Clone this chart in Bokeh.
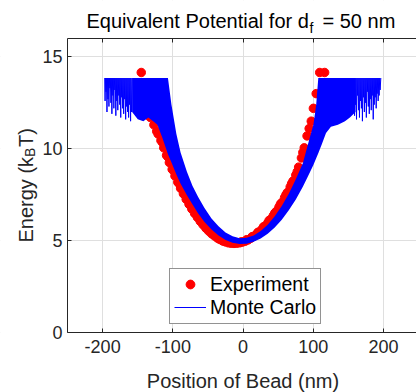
import math
from bokeh.plotting import figure
from bokeh.models import (BoxAnnotation, FixedTicker, Label, Legend, LegendItem,
                          LinearAxis, Range1d)
from bokeh.embed import file_html
from bokeh.resources import INLINE

# ---------------- data ----------------
x_ticks = [-200, -100, 0, 100, 200]
x_tick_labels = ["-200", "-100", "0", "100", "200"]
y_ticks = [0, 5, 10, 15]
y_tick_labels = ["0", "5", "10", "15"]
x_lim = (-250, 250)
y_lim = (0, 16)

# Experiment (red filled circles): position (nm), energy (kBT)
exp_x = [-145, -137, -132, -127, -121, -117, -113, -109, -105, -101, -97, -93, -89, -85,
         -81, -77, -73, -69, -65, -61, -57, -53, -49, -45, -41, -37, -33, -29, -25, -21,
         -17, -13, -9, -5, -1, 3, 7, 11, 15, 19, 23, 27, 31, 35, 39, 43, 47, 51, 55, 59,
         63, 67, 71, 75, 79, 83, 87, 91, 94, 97, 100, 104, 109, 116,
         -123, -115, -107, -99, -91, -83, -75, -67, -59, -51, -43, -35, -27, -19, -11,
         -3, 5, 13, 21, 29, 37, 45, 53, 61, 69, 77, 85]
exp_e = [14.15, 11.85, 11.7, 11.3, 10.8, 10.45, 10.05, 9.64, 9.25, 8.88, 8.52, 8.18, 7.85, 7.55,
         7.25, 6.98, 6.72, 6.48, 6.26, 6.05, 5.86, 5.68, 5.52, 5.38, 5.26, 5.15, 5.06, 4.98, 4.93, 4.88,
         4.86, 4.85, 4.86, 4.88, 4.92, 4.97, 5.04, 5.13, 5.23, 5.34, 5.47, 5.62, 5.78, 5.96, 6.15, 6.36,
         6.58, 6.82, 7.07, 7.34, 7.62, 7.92, 8.24, 8.57, 9.0, 9.5, 10.05, 10.7, 11.1, 11.5, 12.2, 13.0,
         14.15, 14.15,
         10.95, 10.35, 9.55, 8.8, 8.1, 7.5, 6.95, 6.45, 6.0, 5.65, 5.35, 5.12, 4.98, 4.9, 4.9,
         4.93, 5.05, 5.22, 5.45, 5.75, 6.1, 6.5, 6.98, 7.5, 8.1, 8.75, 9.8]

# Monte Carlo: densely sampled part, drawn as its lower / upper envelope
mc_band_x = [-158, -150, -142, -135, -128, -122, -115, -107, -102, -95, -89, -80, -72, -64,
             -55, -45, -35, -25, -15, -5, 5, 15, 25, 35, 45, 55, 65, 75, 85, 92, 100, 104,
             107, 112, 118, 125, 135, 145, 152, 160]
mc_band_lo = [12.0, 11.6, 11.5, 11.7, 11.5, 11.3, 10.6, 9.7, 9.25, 8.6, 8.1, 7.47, 6.97, 6.48,
              6.02, 5.61, 5.28, 5.04, 4.88, 4.81, 4.83, 4.94, 5.12, 5.37, 5.72, 6.14, 6.65, 7.24,
              7.93, 8.47, 9.11, 9.48, 9.75, 10.24, 10.86, 11.2, 11.3, 11.5, 11.7, 12.0]
mc_band_hi = [13.85, 13.85, 13.85, 13.85, 13.85, 13.85, 13.85, 13.85, 12.4, 10.8, 9.8, 8.75, 7.97,
              7.38, 6.78, 6.21, 5.78, 5.44, 5.24, 5.13, 5.15, 5.28, 5.52, 5.87, 6.32, 6.88, 7.55,
              8.34, 9.21, 10.2, 11.3, 12.4, 13.85, 13.85, 13.85, 13.85, 13.85, 13.85, 13.85, 13.85]

# Monte Carlo: sparse spiky fringes at both ends
mc_left_x = [-197, -196.5, -196, -195.2, -194.6, -193.8, -193.2, -192.4, -191.8, -191, -190.4,
             -189.6, -189, -188.2, -187.6, -186.8, -186.2, -185.4, -184.8, -184, -183.4, -182.6,
             -182, -181.2, -180.6, -179.8, -179.2, -178.4, -177.8, -177, -176.4, -175.6, -175,
             -174.2, -173.6, -172.8, -172.2, -171.4, -170.8, -170, -169.4, -168.6, -168, -167.2,
             -166.6, -165.8, -165.2, -164.4, -163.8, -163, -162.4, -161.6, -161, -160.2, -159.6,
             -158.8, -158]
mc_left_e = [13.85, 12.6, 13.85, 13.1, 13.85, 12.0, 13.85, 12.7, 13.85, 12.3, 13.85, 13.3, 13.85,
             12.5, 13.85, 11.9, 13.85, 12.9, 13.85, 12.2, 13.85, 13.2, 13.85, 11.8, 13.85, 12.6,
             13.85, 12.1, 13.85, 12.9, 13.85, 12.4, 13.85, 11.7, 13.85, 12.8, 13.85, 12.2, 13.85,
             11.9, 13.85, 12.7, 13.85, 11.6, 13.85, 12.3, 13.85, 12.0, 13.85, 11.7, 13.85, 12.4,
             13.85, 11.5, 13.85, 12.0, 13.85]
mc_right_x = [158, 158.6, 159.4, 160, 160.8, 161.4, 162.2, 162.8, 163.6, 164.2, 165, 165.6, 166.4,
              167, 167.8, 168.4, 169.2, 169.8, 170.6, 171.2, 172, 172.6, 173.4, 174, 174.8, 175.4,
              176.2, 176.8, 177.6, 178.2, 179, 179.6, 180.4, 181, 181.8, 182.4, 183.2, 183.8,
              184.6, 185.2, 186, 186.6, 187.4, 188, 188.8, 189.4, 190.2, 190.8, 191.6, 192.2,
              193, 193.6, 194.4, 195, 196]
mc_right_e = [13.85, 11.8, 13.85, 12.4, 13.85, 11.6, 13.85, 12.9, 13.85, 12.1, 13.85, 11.7, 13.85,
              12.6, 13.85, 12.2, 13.85, 11.5, 13.85, 12.8, 13.85, 12.0, 13.85, 12.5, 13.85, 11.7,
              13.85, 13.1, 13.85, 12.3, 13.85, 11.9, 13.85, 12.7, 13.85, 12.1, 13.85, 12.9, 13.85,
              11.6, 13.85, 12.4, 13.85, 12.8, 13.85, 12.2, 13.85, 13.0, 13.85, 12.6, 13.85, 12.9,
              13.85, 13.2, 13.85]

# ---------------- layout ----------------
# The frame fills the whole canvas; the axes box sits inside it at these pixels.
W, H = 416, 392
BL, BT, BB = 67, 38, 332          # box left / top / bottom (canvas px)
PX_PER_X = 0.7025                 # px per nm
PX_PER_Y = (BB - BT) / (y_lim[1] - y_lim[0])
xr = (x_lim[0] - BL / PX_PER_X, x_lim[0] + (W - BL) / PX_PER_X)
yr = (y_lim[0] - (H - BB) / PX_PER_Y, y_lim[1] + BT / PX_PER_Y)
FONT = "Liberation Sans"
AX = "#262626"

p = figure(width=W, height=H, x_range=Range1d(*xr), y_range=Range1d(*yr),
           output_backend="svg", toolbar_location=None,
           x_axis_location=None, y_axis_location=None,
           min_border=0, min_border_left=0, min_border_right=0,
           min_border_top=0, min_border_bottom=0)
p.outline_line_color = None
p.background_fill_color = "white"
p.border_fill_color = "white"

p.xgrid.ticker = FixedTicker(ticks=x_ticks)
p.ygrid.ticker = FixedTicker(ticks=y_ticks)
p.grid.grid_line_color = "#dfdfdf"
p.grid.grid_line_width = 1

# white masks: keep grid lines inside the axes box
for kw in (dict(bottom=y_lim[1]), dict(top=y_lim[0]), dict(right=x_lim[0])):
    p.add_layout(BoxAnnotation(fill_color="white", fill_alpha=1, line_color=None,
                               level="underlay", **kw))

bottom = LinearAxis(fixed_location=y_lim[0], bounds=(x_lim[0], xr[1]))
left = LinearAxis(fixed_location=x_lim[0], bounds=y_lim)
top = LinearAxis(fixed_location=y_lim[1], bounds=(x_lim[0], xr[1]))
p.add_layout(bottom, "below")
p.add_layout(left, "left")
p.add_layout(top, "above")

for ax, ticks in [(bottom, x_ticks), (left, y_ticks), (top, x_ticks)]:
    ax.ticker = FixedTicker(ticks=ticks)
    ax.axis_line_color = AX
    ax.axis_line_width = 1
    ax.major_tick_line_color = AX
    ax.major_tick_in = 4
    ax.major_tick_out = 0
    ax.minor_tick_line_color = None
    ax.major_label_text_font = FONT
    ax.major_label_text_color = AX
    ax.major_label_text_font_size = "18px"
bottom.major_label_overrides = dict(zip(x_ticks, x_tick_labels))
left.major_label_overrides = dict(zip(y_ticks, y_tick_labels))
top.major_label_overrides = {t: "" for t in x_ticks}
top.major_label_text_font_size = "1px"
bottom.major_label_standoff = 7
left.major_label_standoff = 5

# ---------------- data marks ----------------
r_exp = p.scatter(exp_x, exp_e, marker="circle", size=8.5, fill_color="#ff0000",
                  line_color="#ff0000", line_width=1)
p.varea(x=mc_band_x, y1=mc_band_lo, y2=mc_band_hi, fill_color="#0000ff")
r_mc = p.line(mc_left_x, mc_left_e, line_color="#0000ff", line_width=1)
p.line(mc_right_x, mc_right_e, line_color="#0000ff", line_width=1)

legend = Legend(items=[LegendItem(label="Experiment", renderers=[r_exp]),
                       LegendItem(label="Monte Carlo", renderers=[r_mc])],
                location=(169, H - 323.5))
legend.border_line_color = AX
legend.border_line_width = 1
legend.background_fill_color = "white"
legend.background_fill_alpha = 1
legend.label_text_font = FONT
legend.label_text_font_size = "19.5px"
legend.label_text_color = "#000000"
legend.padding = 4
legend.spacing = 0
legend.margin = 0
legend.glyph_width = 32
legend.glyph_height = 22
legend.label_height = 22
legend.label_standoff = 4
p.add_layout(legend)


# ---------------- texts (canvas pixel positions) ----------------
def lab(px, py, text, size, angle=0.0, color="#000000", align="left"):
    p.add_layout(Label(x=px, y=py, x_units="canvas", y_units="canvas", text=text,
                       text_font=FONT, text_font_size=size, text_color=color,
                       text_align=align, text_baseline="alphabetic", angle=angle))


# title
lab(86, 20.5, "Equivalent Potential for d", "20px")
lab(309, 27.5, "f", "14px")
lab(322, 20.5, "= 50 nm", "20px")
# x label
lab(242.5, 380, "Position of Bead (nm)", "20px", color=AX, align="center")
# y label (rotated)
lab(25, 242, "Energy (k", "20px", angle=math.pi / 2, color=AX)
lab(29, 156.4, "B", "14px", angle=math.pi / 2, color=AX)
lab(25, 146.5, "T)", "20px", angle=math.pi / 2, color=AX)

open("out.html", "w").write(file_html(p, INLINE))
